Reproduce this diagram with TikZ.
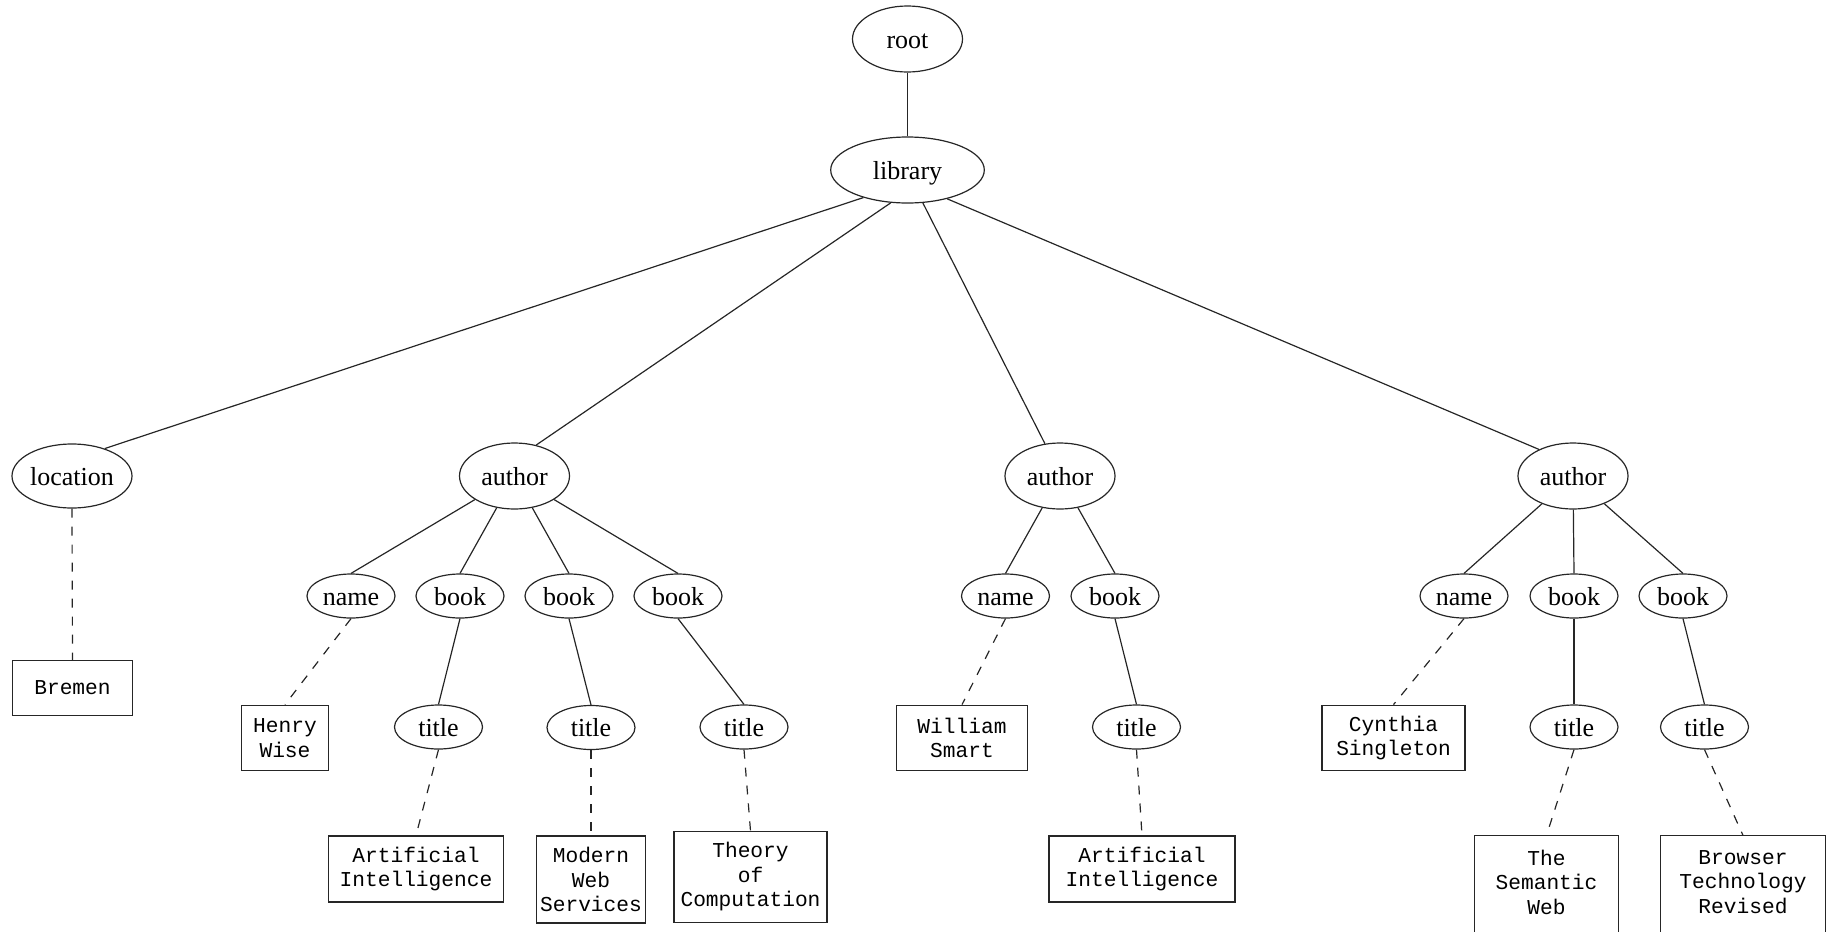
\documentclass[tikz,border=0pt]{standalone}
\usepackage{fontspec}
\setmainfont{Liberation Serif}
\setmonofont{Liberation Mono}
\usetikzlibrary{shapes.geometric}

\begin{document}
\begin{tikzpicture}[x=0.5pt, y=-0.5pt,
    tag/.style={ellipse, draw=black!85, line width=0.6pt, inner sep=0pt,
        minimum width=55pt, minimum height=33pt, text height=10.5pt, text depth=1.5pt,
        font=\fontsize{13}{15.6}\selectfont},
    smalltag/.style={tag, minimum width=44pt, minimum height=22pt},
    textbox/.style={rectangle, draw=black!85, line width=0.6pt, inner sep=0pt,
        align=center, font=\ttfamily\fontsize{10.6}{12.25}\selectfont},
    link/.style={draw=black!85, line width=0.6pt},
    textlink/.style={link, dash pattern=on 4.5pt off 4.5pt}]

    \useasboundingbox (0, 0) rectangle (1832, 932);

    % element nodes
    \node[tag] (root) at (907.5, 39) {root};
    \node[tag, minimum width=76.8pt] (library) at (907.5, 170) {library};

    \node[tag, minimum width=60pt, minimum height=32pt] (location) at (72, 476) {location};
    \node[tag] (author1) at (514.5, 476) {author};
    \node[tag] (author2) at (1060, 476) {author};
    \node[tag] (author3) at (1573, 476) {author};

    \node[smalltag] (name1) at (351, 596) {name};
    \node[smalltag] (book1a) at (460, 596) {book};
    \node[smalltag] (book1b) at (569, 596) {book};
    \node[smalltag] (book1c) at (678, 596) {book};
    \node[smalltag] (name2) at (1005.5, 596) {name};
    \node[smalltag] (book2) at (1115, 596) {book};
    \node[smalltag] (name3) at (1464, 596) {name};
    \node[smalltag] (book3a) at (1574, 596) {book};
    \node[smalltag] (book3b) at (1683, 596) {book};

    \node[smalltag] (title1a) at (438.5, 727) {title};
    \node[smalltag] (title1b) at (591, 727.5) {title};
    \node[smalltag] (title1c) at (744, 727) {title};
    \node[smalltag] (title2) at (1136.5, 727) {title};
    \node[smalltag] (title3a) at (1574, 727) {title};
    \node[smalltag] (title3b) at (1704.5, 727) {title};

    % text nodes
    \node[textbox, minimum width=60.3pt, minimum height=27.5pt] (bremen) at (72.5, 688) {Bremen};
    \node[textbox, minimum width=43.6pt, minimum height=32.8pt] (henry) at (285, 738) {Henry\\Wise};
    \node[textbox, minimum width=65.6pt, minimum height=32.8pt] (william) at (962, 738) {William\\Smart};
    \node[textbox, minimum width=71.5pt, minimum height=32.8pt] (cynthia) at (1393.5, 738) {Cynthia\\Singleton};

    \node[textbox, minimum width=87.5pt, minimum height=33pt] (ai1) at (416, 869) {Artificial\\Intelligence};
    \node[textbox, minimum width=54.5pt, minimum height=43.5pt] (mws) at (591, 879.5) {Modern\\Web\\Services};
    \node[textbox, minimum width=76.5pt, minimum height=45.5pt] (toc) at (750.5, 877) {Theory\\of\\Computation};
    \node[textbox, minimum width=93pt, minimum height=33pt] (ai2) at (1142, 869) {Artificial\\Intelligence};
    \node[textbox, draw=none, minimum width=71.5pt, minimum height=46pt] (semweb) at (1546.5, 882) {The\\Semantic\\Web};
    \node[textbox, draw=none, minimum width=82pt, minimum height=46pt] (browser) at (1743, 882) {Browser\\Technology\\Revised};

    % these two boxes run past the lower edge
    \draw[link] (semweb.north west) rectangle ([yshift=-20pt]semweb.south east);
    \draw[link] (browser.north west) rectangle ([yshift=-20pt]browser.south east);

    % element edges
    \draw[link] (root.south) -- (library.north);
    \draw[link] (library.212) -- (location.40);
    \draw[link] (library.243) -- (author1.55);
    \draw[link] (library.295) -- (author2.115);
    \draw[link] (library.324) -- (author3.142);

    \draw[link] (author1) -- (name1.north);
    \draw[link] (author1) -- (book1a.north);
    \draw[link] (author1) -- (book1b.north);
    \draw[link] (author1) -- (book1c.north);
    \draw[link] (author2) -- (name2.north);
    \draw[link] (author2) -- (book2.north);
    \draw[link] (author3) -- (name3.north);
    \draw[link] (author3) -- (book3a.north);
    \draw[link] (author3) -- (book3b.north);

    \draw[link] (book1a.south) -- (title1a.north);
    \draw[link] (book1b.south) -- (title1b.north);
    \draw[link] (book1c.south) -- (title1c.north);
    \draw[link] (book2.south) -- (title2.north);
    \draw[link] (book3a.south) -- (title3a.north);
    \draw[link] (book3b.south) -- (title3b.north);

    % text edges
    \draw[textlink] (location.south) -- (bremen.north);
    \draw[textlink] (name1.south) -- (henry.north);
    \draw[textlink] (name2.south) -- (william.north);
    \draw[textlink] (name3.south) -- (cynthia.north);
    \draw[textlink] (title1a.south) -- (ai1.north);
    \draw[textlink] (title1b.south) -- (mws.north);
    \draw[textlink] (title1c.south) -- (toc.north);
    \draw[textlink] (title2.south) -- (ai2.north);
    \draw[textlink] (title3a.south) -- (semweb.north);
    \draw[textlink] (title3b.south) -- (browser.north);
\end{tikzpicture}
\end{document}
